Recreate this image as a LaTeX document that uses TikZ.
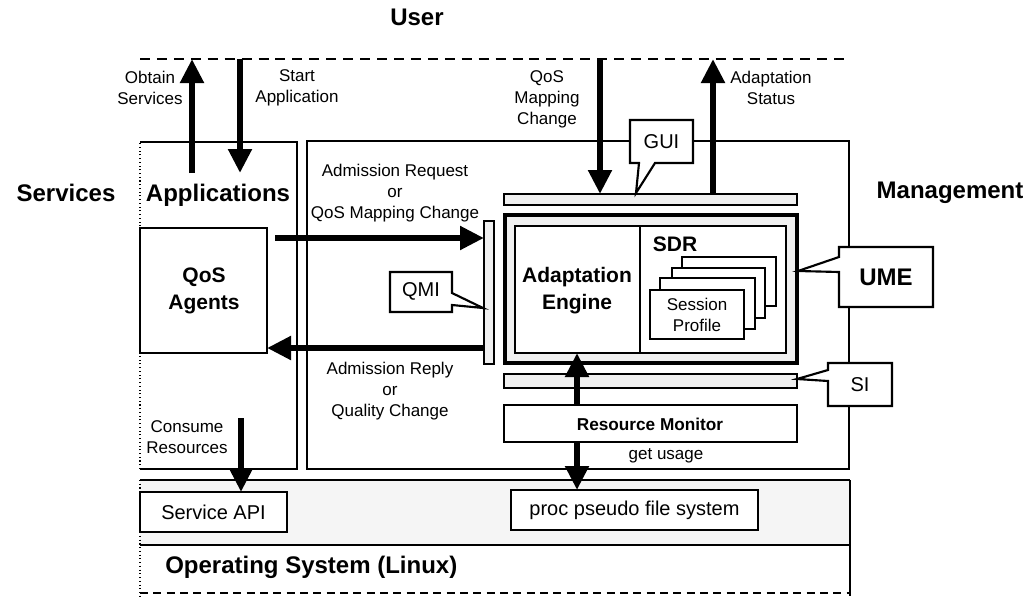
\documentclass[tikz,border=0pt]{standalone}
\usepackage{fontspec}
\setmainfont{Liberation Sans}
\usetikzlibrary{arrows.meta,fit}

% type sizes
\newcommand{\fBig}{\fontsize{18pt}{21pt}\selectfont\bfseries}
\newcommand{\fMid}{\fontsize{15.75pt}{20.25pt}\selectfont\bfseries}
\newcommand{\fBox}{\fontsize{15pt}{18pt}\selectfont}
\newcommand{\fLab}{\fontsize{12.75pt}{15.8pt}\selectfont}
\newcommand{\fMon}{\fontsize{12.9pt}{15pt}\selectfont\bfseries}

\tikzset{
  thinline/.style={line width=1.6pt},
  plain/.style={inner sep=0pt, outer sep=0pt},
  boxnode/.style={plain, draw, thinline, fill=white},
  stipple/.style={fill=black!6},
  bigarrow/.style={line width=4.6pt, -{Triangle[length=18pt,width=17pt]}},
  callout/.style={draw, thinline, fill=white, line join=miter},
  lab/.style={font=\fLab, align=center, inner sep=0pt},
  txt/.style={align=center, inner sep=0pt},
  userline/.style={line width=2.2pt, dash pattern=on 7.5pt off 5.2pt},
}

\begin{document}
\begin{tikzpicture}[x=0.75pt, y=-0.75pt]
\useasboundingbox (0,0) rectangle (1031,596);
\fill[white] (0,0) rectangle (1031,596);

% ---- layer frames ----
\node[plain, fit={(307,141) (849,469)}, draw, thinline] (mgmt) {};
\node[plain, fit={(140,142) (297,469)}] (apps) {};
\draw[thinline] (apps.north west) -- (apps.north east) -- (apps.south east) -- (apps.south west);
\draw[line width=0.8pt, dotted] (apps.south west) -- (apps.north west);

% operating system with the kernel interface band
\node[plain, fit={(140,480) (850,593)}] (os) {};
\fill[black!4] (os.north west) rectangle (850,545);
\draw[line width=2.2pt] (os.north west) -- (os.north east);
\draw[thinline] (140,545) -- (850,545);
\draw[thinline] (os.north east) -- (850,596);
\draw[line width=0.8pt, dotted] (os.north west) -- (140,596);
\draw[line width=0.8pt, dash pattern=on 6pt off 4pt] (os.south west) -- (os.south east);

% ---- user boundary ----
\draw[userline] (140,59) coordinate (uleft) -- (845,59) coordinate (uright);
\coordinate (uObtain) at (192,59);
\coordinate (uStart)  at (240,59);
\coordinate (uQoS)    at (600,59);
\coordinate (uStatus) at (713,59);

% ---- titles ----
\node[font=\fBig] (user) at (417,17) {User};
\node[font=\fBig] (services) at (66,193) {Services};
\node[font=\fBig] (appl) at (218,195) {Applications};
\node[font=\fBig] (mgmtlabel) at (950,193) {Management};
\node[font=\fBig, anchor=west, inner sep=0pt] (oslabel) at (165,567) {Operating System (Linux)};

% ---- application side ----
\node[boxnode, fit={(140,228) (267,353)}] (agents) {};
\node[txt, font=\fMid] (agentsText) at (204,291) {QoS\\Agents};
\node[boxnode, fit={(140,492) (287,532)}] (svcapi) {};
\node[txt, font=\fBox] (svcapiText) at (svcapi.center) {Service API};

% ---- management side ----
\node[plain, draw, thinline, stipple, fit={(484,221) (494,364)}] (qmibar) {};
\node[plain, draw, thinline, stipple, fit={(504,194) (797,205)}] (uibar) {};
\node[plain, draw, thinline, stipple, fit={(504,374) (797,388)}] (sibar) {};

\node[plain, draw, line width=2.6pt, stipple, fit={(505,215) (797,363)}] (ume) {};
\node[boxnode, fit={(515,226) (640,353)}] (engine) {};
\node[txt, font=\fMid] (engineText) at (577,291) {Adaptation\\Engine};
\node[boxnode, fit={(640,226) (786,353)}] (sdr) {};
\node[txt, font=\fMid] (sdrText) at (675,244) {SDR};

% stacked session profiles, back to front
\node[boxnode, fit={(682,257) (776,306)}] (page4) {};
\node[boxnode, fit={(672,268) (765,318)}] (page3) {};
\node[boxnode, fit={(660,278) (755,329)}] (page2) {};
\node[boxnode, fit={(650,290) (744,339)}] (page1) {};
\node[txt, font=\fLab] (page1Text) at (697,315) {Session\\Profile};

\node[boxnode, fit={(504,405) (797,442)}] (rmon) {};
\node[txt, font=\fMon] (rmonText) at (650,424) {Resource Monitor};
\node[boxnode, fit={(511,490) (758,530)}] (proc) {};
\node[txt, font=\fBox] (procText) at (proc.center) {proc pseudo file system};

% ---- flows ----
\coordinate (obtainTail) at (192,173);
\coordinate (startTip) at (240,173);
\draw[bigarrow] (obtainTail) -- (uObtain);
\draw[bigarrow] (uStart) -- (startTip);
\draw[bigarrow] (uQoS) -- (uQoS |- uibar.north);
\draw[bigarrow] (uStatus |- uibar.north) -- (uStatus);

\coordinate (reqTail) at (275,238);
\coordinate (replyRow) at (400,348);
\draw[bigarrow] (reqTail) -- (reqTail -| qmibar.west);
\draw[bigarrow] (qmibar.west |- replyRow) -- (agents.east |- replyRow);

\coordinate (consumeTail) at (241,418);
\draw[bigarrow] (consumeTail) -- (consumeTail |- svcapi.north);

\coordinate (monCol) at (577,400);
\draw[bigarrow] (monCol |- rmon.north) -- (monCol |- engine.south);
\draw[bigarrow] (monCol |- rmon.south) -- (monCol |- proc.north);

% ---- flow labels ----
\node[lab] (lObtain) at (150,88) {Obtain\\Services};
\node[lab] (lStart) at (297,88) {Start\\Application};
\node[lab] (lQoS) at (547,99) {QoS\\Mapping\\Change};
\node[lab] (lStatus) at (771,88) {Adaptation\\Status};
\node[lab] (lReq) at (395,193) {Admission Request\\or\\QoS Mapping Change};
\node[lab] (lReply) at (390,391) {Admission Reply\\or\\Quality Change};
\node[lab] (lConsume) at (187,437) {Consume\\Resources};
\node[lab] (lUsage) at (666,456) {get usage};

% ---- interface callouts ----
\draw[callout] (630,120) -- (693,120) -- (693,163) -- (655,163) -- (636,193) -- (639,163) -- (630,163) -- cycle;
\node[txt, font=\fBox] (gui) at (661.5,141.5) {GUI};

\draw[callout] (839,247) -- (933,247) -- (933,307) -- (839,307) -- (839,272) -- (798,271) -- (839,257) -- cycle;
\node[txt, font=\fBig] (umeText) at (886,277) {UME};

\draw[callout] (828,363) -- (892,363) -- (892,406) -- (828,406) -- (828,381) -- (797,379) -- (828,370) -- cycle;
\node[txt, font=\fBox] (si) at (860,384.5) {SI};

\draw[callout] (390,272) -- (452,272) -- (452,293) -- (483,308) -- (452,305) -- (452,312) -- (390,312) -- cycle;
\node[txt, font=\fBox] (qmi) at (421,291) {QMI};
\end{tikzpicture}
\end{document}
